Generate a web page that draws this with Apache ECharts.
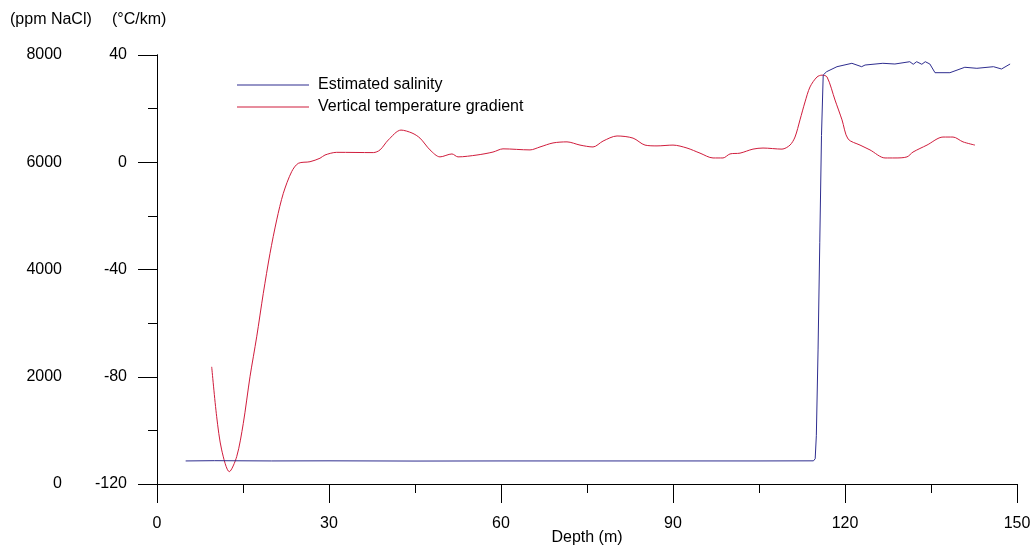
<!DOCTYPE html>
<html>
<head>
<meta charset="utf-8">
<script src="https://cdn.jsdelivr.net/npm/echarts@6/dist/echarts.min.js"></script>
<style>
html,body{margin:0;padding:0;background:#fff;overflow:hidden;}
#chart{width:1032px;height:547px;}
</style>
</head>
<body>
<div id="chart"></div>
<script>
// Depth (m) / salinity (ppm NaCl)
const salinityDepth = [5, 10, 20, 30, 45, 60, 75, 90, 105, 114.5, 114.8, 115.0, 115.3, 115.6, 115.9, 116.2, 116.8, 118.6, 121.2, 122.9, 123.5, 126.6, 128.7, 131.3, 131.9, 132.5, 133.4, 134.0, 134.8, 135.7, 138.3, 140.9, 143.0, 145.9, 147.3, 148.8];
const salinityValues = [430, 435, 430, 432, 428, 430, 430, 430, 430, 432, 470, 900, 2500, 4500, 6500, 7627, 7689, 7782, 7845, 7782, 7813, 7845, 7832, 7875, 7827, 7875, 7827, 7875, 7832, 7670, 7670, 7771, 7752, 7782, 7739, 7832];

// Depth (m) / vertical temperature gradient (°C/km)
const gradientDepth = [9.54, 10.41, 11.28, 12.61, 13.90, 15.05, 16.22, 17.39, 18.54, 19.71, 20.88, 22.03, 23.49, 24.65, 26.69, 28.43, 29.30, 31.34, 37.73, 38.90, 40.34, 42.56, 44.48, 45.87, 47.62, 49.36, 51.45, 52.50, 55.81, 58.60, 60.35, 65.06, 66.80, 69.07, 71.51, 73.78, 76.05, 77.80, 80.24, 83.03, 85.12, 87.21, 90.00, 92.44, 94.71, 96.98, 98.72, 99.94, 101.69, 103.95, 105.70, 109.01, 110.41, 111.28, 112.15, 113.03, 113.90, 115.12, 116.00, 116.87, 118.26, 119.48, 120.53, 122.62, 124.36, 126.98, 128.72, 130.81, 131.86, 134.30, 137.09, 138.84, 140.58, 142.67];
const gradientValues = [-76.3, -94.9, -107.3, -115.4, -109.8, -97.4, -80.0, -65.1, -48.9, -34.0, -21.5, -11.6, -3.5, -0.4, 0.2, 1.5, 2.7, 3.7, 3.6, 4.6, 8.3, 12.0, 10.9, 9.0, 4.6, 2.0, 3.1, 2.0, 2.7, 3.8, 5.0, 4.6, 5.7, 7.2, 7.6, 6.4, 5.7, 7.9, 9.8, 9.0, 6.4, 6.1, 6.4, 5.3, 3.4, 1.6, 1.6, 3.1, 3.4, 4.9, 5.3, 4.9, 6.4, 9.4, 15.8, 22.5, 28.1, 31.8, 32.5, 31.8, 23.2, 15.8, 8.7, 6.4, 4.6, 1.6, 1.6, 2.0, 3.8, 6.4, 9.4, 9.4, 7.6, 6.4];

const seriesNames = ['Estimated salinity', 'Vertical temperature gradient'];
const axisUnits = ['(ppm NaCl)', '(°C/km)'];
const xName = 'Depth (m)';

const FONT = 'Liberation Sans, Arial, sans-serif';
const FS = 16;

const chart = echarts.init(document.getElementById('chart'), null, {renderer: 'canvas'});

const axisCommon = {
  axisLine: {show: true, lineStyle: {color: '#000', width: 1}},
  axisTick: {show: true, inside: false, length: 19, lineStyle: {color: '#000', width: 1}},
  minorTick: {show: true, splitNumber: 2, length: 9, lineStyle: {color: '#000', width: 1}},
  splitLine: {show: false},
  minorSplitLine: {show: false},
  axisLabel: {color: '#000', fontSize: FS, fontFamily: FONT, margin: 30, formatter: v => String(v)}
};

chart.setOption({
  animation: false,
  backgroundColor: '#fff',
  textStyle: {fontFamily: FONT},
  grid: {left: 157, right: 15, top: 55, bottom: 63, containLabel: false, outerBoundsMode: 'none'},
  legend: {
    orient: 'vertical',
    left: 237,
    top: 77,
    padding: 0,
    icon: 'rect',
    itemWidth: 72,
    itemHeight: 1,
    itemGap: 6,
    data: seriesNames,
    textStyle: {color: '#000', fontSize: FS, fontFamily: FONT, padding: [0, 0, 0, 4]}
  },
  graphic: [
    {type: 'text', left: 10, top: 12, style: {text: axisUnits[0], font: FS + 'px ' + FONT, fill: '#000'}},
    {type: 'text', left: 112, top: 12, style: {text: axisUnits[1], font: FS + 'px ' + FONT, fill: '#000'}}
  ],
  xAxis: Object.assign({}, axisCommon, {
    type: 'value', min: 0, max: 150, interval: 30,
    axisLabel: Object.assign({}, axisCommon.axisLabel, {margin: 32}),
    name: xName, nameLocation: 'middle', nameGap: 46, nameMoveOverlap: false,
    nameTextStyle: {color: '#000', fontSize: FS, fontFamily: FONT}
  }),
  yAxis: [
    Object.assign({}, axisCommon, {
      type: 'value', position: 'left', offset: 65, min: 0, max: 8000, interval: 2000
    }),
    Object.assign({}, axisCommon, {
      type: 'value', position: 'left', offset: 0, min: -120, max: 40, interval: 40
    })
  ],
  series: [
    {
      name: seriesNames[0], type: 'line', yAxisIndex: 0,
      data: salinityDepth.map((d, i) => [d, salinityValues[i]]),
      symbol: 'none', showSymbol: false, smooth: false,
      lineStyle: {color: '#2e2d8f', width: 1}, itemStyle: {color: '#2e2d8f'}, z: 3
    },
    {
      name: seriesNames[1], type: 'line', yAxisIndex: 1,
      data: gradientDepth.map((d, i) => [d, gradientValues[i]]),
      symbol: 'none', showSymbol: false, smooth: 0.3,
      lineStyle: {color: '#d01c3c', width: 1}, itemStyle: {color: '#d01c3c'}, z: 2
    }
  ]
});
</script>
</body>
</html>
